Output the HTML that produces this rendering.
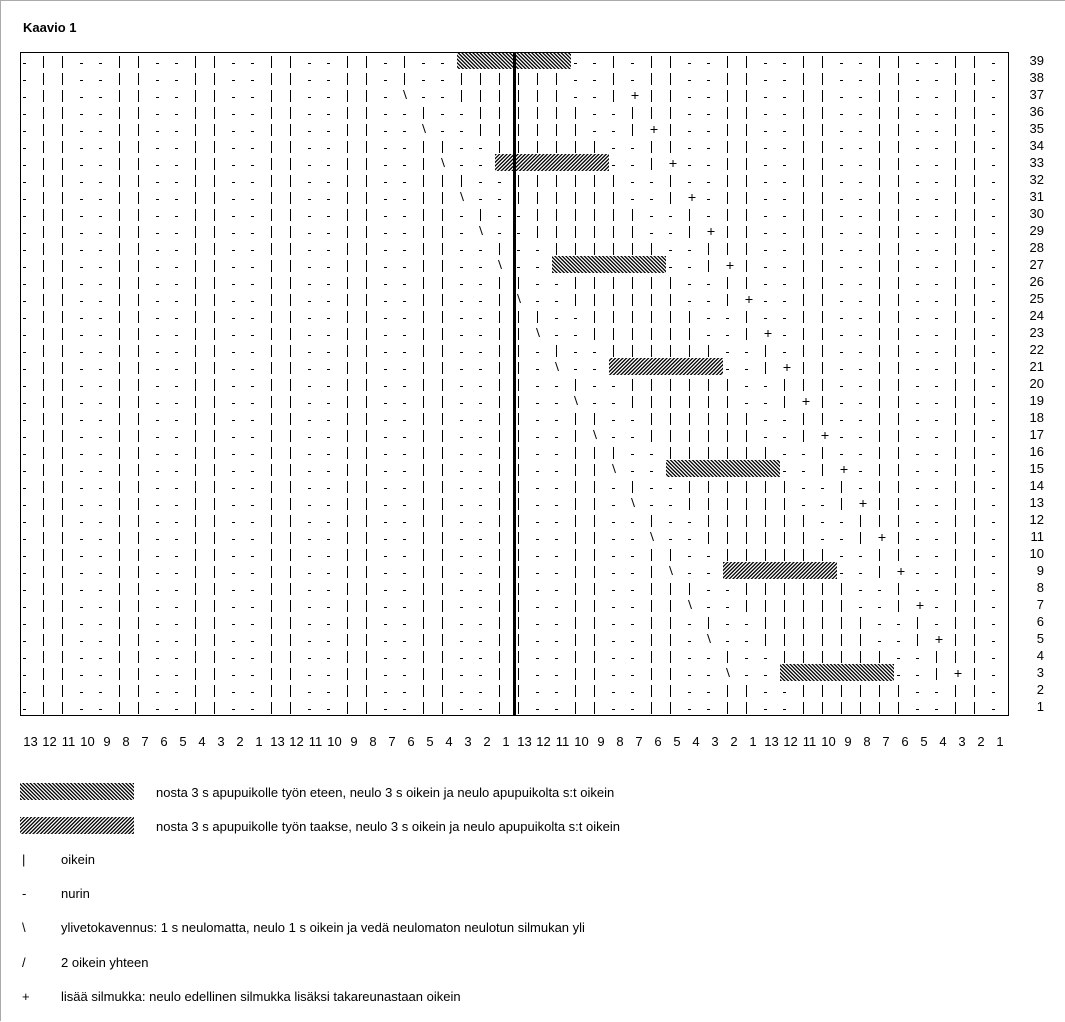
<!DOCTYPE html>
<html><head><meta charset="utf-8"><style>
html,body{margin:0;padding:0;background:#fff}
body{width:1065px;height:1021px;overflow:hidden;position:relative;box-sizing:border-box;border-left:1px solid #aaa;border-top:1px solid #aaa}
svg{position:absolute;left:0;top:0}
text{font-family:"Liberation Sans",Arial,sans-serif;font-size:13px;fill:#000}
</style></head><body>
<svg id="s" width="1065" height="1021" xmlns="http://www.w3.org/2000/svg">
<defs>
<pattern id="hA" patternUnits="userSpaceOnUse" width="2.6" height="2.6" patternTransform="rotate(-45)"><rect width="1.3" height="2.6" fill="#000"/></pattern>
<pattern id="hB" patternUnits="userSpaceOnUse" width="2.6" height="2.6" patternTransform="rotate(45)"><rect width="1.3" height="2.6" fill="#000"/></pattern>
</defs>
<text x="22" y="31" style="font-weight:bold">Kaavio 1</text>
<rect x="19.5" y="51.5" width="988" height="663" fill="none" stroke="#000" stroke-width="1"/>
<g id="sym" stroke="#000" stroke-width="1" fill="none"></g>
<g id="hat"></g>
<rect x="512" y="51" width="3" height="663" fill="#000"/>
<g text-anchor="end">
<text x="1043" y="64">39</text><text x="1043" y="81">38</text><text x="1043" y="98">37</text><text x="1043" y="115">36</text><text x="1043" y="132">35</text><text x="1043" y="149">34</text><text x="1043" y="166">33</text><text x="1043" y="183">32</text><text x="1043" y="200">31</text><text x="1043" y="217">30</text><text x="1043" y="234">29</text><text x="1043" y="251">28</text><text x="1043" y="268">27</text><text x="1043" y="285">26</text><text x="1043" y="302">25</text><text x="1043" y="319">24</text><text x="1043" y="336">23</text><text x="1043" y="353">22</text><text x="1043" y="370">21</text><text x="1043" y="387">20</text><text x="1043" y="404">19</text><text x="1043" y="421">18</text><text x="1043" y="438">17</text><text x="1043" y="455">16</text><text x="1043" y="472">15</text><text x="1043" y="489">14</text><text x="1043" y="506">13</text><text x="1043" y="523">12</text><text x="1043" y="540">11</text><text x="1043" y="557">10</text><text x="1043" y="574">9</text><text x="1043" y="591">8</text><text x="1043" y="608">7</text><text x="1043" y="625">6</text><text x="1043" y="642">5</text><text x="1043" y="659">4</text><text x="1043" y="676">3</text><text x="1043" y="693">2</text><text x="1043" y="710">1</text>
</g>
<g text-anchor="middle">
<text x="29.5" y="745">13</text><text x="48.5" y="745">12</text><text x="67.5" y="745">11</text><text x="86.5" y="745">10</text><text x="106" y="745">9</text><text x="125" y="745">8</text><text x="144" y="745">7</text><text x="163" y="745">6</text><text x="182" y="745">5</text><text x="201" y="745">4</text><text x="220" y="745">3</text><text x="239" y="745">2</text><text x="258" y="745">1</text>
<text x="276.5" y="745">13</text><text x="295.5" y="745">12</text><text x="314.5" y="745">11</text><text x="333.5" y="745">10</text><text x="353" y="745">9</text><text x="372" y="745">8</text><text x="391" y="745">7</text><text x="410" y="745">6</text><text x="429" y="745">5</text><text x="448" y="745">4</text><text x="467" y="745">3</text><text x="486" y="745">2</text><text x="505" y="745">1</text>
<text x="523.5" y="745">13</text><text x="542.5" y="745">12</text><text x="561.5" y="745">11</text><text x="580.5" y="745">10</text><text x="600" y="745">9</text><text x="619" y="745">8</text><text x="638" y="745">7</text><text x="657" y="745">6</text><text x="676" y="745">5</text><text x="695" y="745">4</text><text x="714" y="745">3</text><text x="733" y="745">2</text><text x="752" y="745">1</text>
<text x="770.5" y="745">13</text><text x="789.5" y="745">12</text><text x="808.5" y="745">11</text><text x="827.5" y="745">10</text><text x="847" y="745">9</text><text x="866" y="745">8</text><text x="885" y="745">7</text><text x="904" y="745">6</text><text x="923" y="745">5</text><text x="942" y="745">4</text><text x="961" y="745">3</text><text x="980" y="745">2</text><text x="999" y="745">1</text>
</g>
<rect x="19" y="782" width="114" height="17" fill="url(#hA)"/>
<text x="155" y="796">nosta 3 s apupuikolle työn eteen, neulo 3 s oikein ja neulo apupuikolta s:t oikein</text>
<rect x="19" y="816" width="114" height="17" fill="url(#hB)"/>
<text x="155" y="830">nosta 3 s apupuikolle työn taakse, neulo 3 s oikein ja neulo apupuikolta s:t oikein</text>
<text x="21" y="863">|</text><text x="60" y="863">oikein</text>
<text x="21" y="897">-</text><text x="60" y="897">nurin</text>
<text x="21" y="931">\</text><text x="60" y="931">ylivetokavennus: 1 s neulomatta, neulo 1 s oikein ja vedä neulomaton neulotun silmukan yli</text>
<text x="21" y="966">/</text><text x="60" y="966">2 oikein yhteen</text>
<text x="21" y="1000">+</text><text x="60" y="1000">lisää silmukka: neulo edellinen silmukka lisäksi takareunastaan oikein</text>
</svg>
<script>
(function(){
var g=document.getElementById('sym'),h=document.getElementById('hat');
var d='';var hs='';
function base(c){var m=c%4;return (m==1||m==2)?'|':'-';}
for(var r=1;r<=39;r++){
 var k=r>=3?Math.min(Math.floor((r-1)/2),18):0;
 var dec=(r%2==1&&r>=3&&r<=37);
 var cab=(r>=3&&(r-3)%6==0);
 var dc=38-k,pc=50-k;
 var t=714-17*r;
 var cs=41-k,ce=46-k;
 if(cab){hs+='<rect x="'+(19+19*cs)+'" y="'+t+'" width="114" height="17" fill="url(#'+(((r-3)/6)%2==0?'hA':'hB')+')"/>';}
 for(var c=0;c<52;c++){
  if(cab&&c>=cs&&c<=ce)continue;
  var s;
  if(c<dc)s=base(c);
  else if(c==dc)s=dec?'\\':'|';
  else if(c<pc){var u=c+k;s=(u>=41&&u<=46)?'|':base(u);}
  else if(c==pc)s=dec?'+':base(c);
  else s=base(c);
  var l=19+19*c;
  if(s=='|'){d+='M'+(l+4.5)+' '+(t+4)+'V'+(t+16);}
  else if(s=='-'){d+='M'+(l+3)+' '+(t+11.5)+'H'+(l+6);}
  else if(s=='\\'){d+='M'+(l+3.5)+' '+(t+4)+'L'+(l+6.5)+' '+(t+13);}
  else if(s=='+'){d+='M'+(l+3.5)+' '+(t+9.5)+'H'+(l+10.5)+'M'+(l+7)+' '+(t+6)+'V'+(t+13);}
 }
}
g.innerHTML='<path d="'+d+'"/>';
h.innerHTML=hs;
})();
</script>
</body></html>
